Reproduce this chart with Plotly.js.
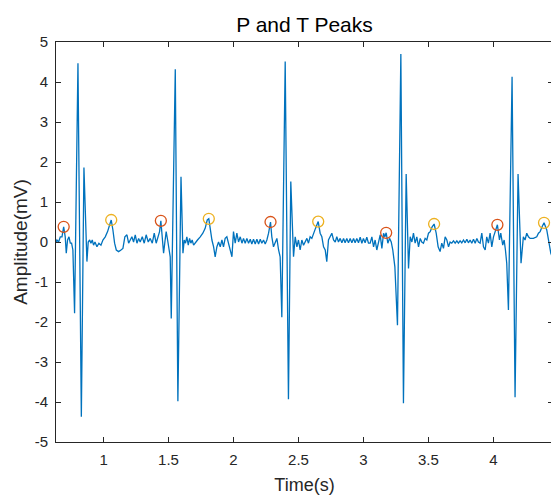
<!DOCTYPE html>
<html>
<head>
<meta charset="utf-8">
<script src="https://cdn.plot.ly/plotly-3.0.1.min.js"></script>
<style>
html,body{margin:0;padding:0;background:#fff;overflow:hidden;}
#chart{width:556px;height:495px;}
</style>
</head>
<body>
<div id="chart"></div>
<script>
// ECG signal (time in s, amplitude in mV)
var time = [
0.634,0.641,0.654,0.667,0.680,0.693,0.705,0.713,0.723,0.734,0.744,0.754,0.764,0.777,0.803,0.829,0.849,0.872,
0.882,0.893,0.903,0.913,0.923,0.934,0.949,0.964,0.980,0.995,1.013,1.031,1.046,1.059,1.072,1.085,1.098,1.116,
1.134,1.149,1.164,1.180,1.193,1.205,1.218,1.231,1.244,1.257,1.270,1.282,1.298,1.313,1.328,1.344,1.359,1.375,
1.390,1.405,1.421,1.431,1.441,1.452,1.462,1.472,1.482,1.493,1.503,1.513,1.521,1.552,1.572,1.596,1.611,1.621,
1.631,1.641,1.652,1.662,1.672,1.682,1.693,1.708,1.723,1.744,1.764,1.782,1.798,1.810,1.821,1.834,1.847,1.859,
1.872,1.885,1.898,1.911,1.923,1.936,1.949,1.962,1.975,1.988,2.000,2.013,2.026,2.039,2.052,2.065,2.077,2.090,
2.103,2.116,2.129,2.141,2.154,2.167,2.180,2.193,2.206,2.218,2.231,2.244,2.257,2.270,2.285,2.295,2.308,2.321,
2.334,2.347,2.359,2.372,2.398,2.423,2.441,2.462,2.475,2.488,2.500,2.513,2.526,2.539,2.552,2.565,2.577,2.590,
2.603,2.616,2.631,2.652,2.667,2.680,2.693,2.706,2.718,2.731,2.744,2.757,2.770,2.783,2.795,2.808,2.821,2.834,
2.847,2.859,2.872,2.885,2.898,2.911,2.924,2.936,2.949,2.962,2.975,2.988,3.000,3.013,3.026,3.039,3.052,3.065,
3.078,3.090,3.103,3.116,3.129,3.142,3.155,3.165,3.175,3.188,3.201,3.214,3.226,3.242,3.262,3.288,3.308,3.329,
3.347,3.360,3.373,3.385,3.398,3.411,3.424,3.437,3.449,3.462,3.475,3.488,3.501,3.514,3.529,3.544,3.560,3.575,
3.590,3.603,3.616,3.629,3.642,3.655,3.667,3.680,3.693,3.706,3.719,3.731,3.744,3.757,3.770,3.783,3.796,3.808,
3.821,3.834,3.847,3.860,3.873,3.885,3.898,3.911,3.924,3.937,3.949,3.962,3.975,3.988,4.001,4.014,4.031,4.047,
4.057,4.072,4.083,4.093,4.103,4.116,4.144,4.167,4.190,4.213,4.231,4.244,4.257,4.270,4.283,4.308,4.334,4.347,
4.360,4.375,4.390,4.411,4.426,4.442,4.462
];
var amplitude = [
0.00,0.05,0.00,0.13,0.13,0.38,0.13,-0.28,0.05,0.13,-0.03,-0.03,-0.20,-1.78,4.47,-4.37,1.86,-0.49,
0.00,0.05,-0.03,0.05,-0.08,0.00,-0.12,-0.03,-0.08,0.05,0.13,0.26,0.42,0.55,0.30,-0.03,-0.20,-0.24,
-0.20,-0.16,0.13,0.18,-0.03,0.05,0.13,0.00,0.18,-0.03,0.09,0.00,0.13,-0.03,0.18,0.00,0.09,-0.03,
0.22,-0.03,0.18,0.26,0.53,0.13,-0.28,0.00,0.26,0.05,-0.12,-0.37,-1.91,4.32,-3.98,1.63,-0.28,0.05,
-0.03,0.13,-0.08,0.09,-0.03,0.05,-0.08,0.00,0.05,0.13,0.22,0.34,0.55,0.58,0.30,0.05,-0.12,-0.37,
-0.12,0.00,-0.12,0.05,-0.12,0.09,0.13,-0.03,-0.20,-0.37,0.26,-0.03,0.22,0.00,0.13,-0.03,0.09,-0.03,
0.09,-0.03,0.07,-0.05,0.07,-0.05,0.07,-0.05,0.07,-0.03,0.05,-0.05,0.05,0.22,0.50,0.13,-0.12,-0.03,
0.09,-0.20,-0.37,-1.88,4.51,-3.93,1.51,-0.37,0.13,-0.12,0.05,-0.20,0.05,-0.08,0.00,0.09,-0.03,0.13,
0.09,0.22,0.34,0.51,0.22,0.13,-0.12,-0.20,-0.49,0.05,0.13,0.22,0.05,0.00,0.13,0.00,0.09,-0.02,
0.09,-0.02,0.09,-0.02,0.09,-0.02,0.09,-0.02,0.09,-0.02,0.12,-0.03,0.09,-0.02,0.12,-0.03,-0.03,0.13,
-0.12,0.05,-0.20,0.00,0.18,-0.16,0.22,0.13,0.23,-0.03,0.09,0.00,-0.20,-0.62,-2.08,4.70,-4.03,1.70,
-0.66,0.13,0.00,0.22,-0.03,0.13,-0.12,0.09,0.00,-0.03,0.09,0.05,0.22,0.26,0.38,0.45,0.22,-0.12,
-0.24,-0.03,-0.16,0.13,0.05,-0.12,0.00,-0.03,0.03,-0.03,0.03,-0.03,0.03,-0.02,0.05,-0.02,0.07,-0.02,
0.05,-0.03,0.07,-0.03,0.09,0.00,-0.03,0.22,-0.12,-0.20,0.13,-0.03,0.22,-0.12,0.13,0.26,0.43,0.05,
0.22,-0.08,0.05,-0.20,-0.53,-1.70,4.13,-3.88,1.70,-0.53,0.13,0.05,0.22,0.13,0.09,0.09,0.13,0.22,
0.26,0.38,0.48,0.30,-0.03,-0.28,-0.45
];
// P peaks
var pTime = [0.693,1.441,2.285,3.175,4.031];
var pAmp  = [0.38,0.53,0.50,0.23,0.43];
// T peaks
var tTime = [1.059,1.810,2.652,3.544,4.390];
var tAmp  = [0.55,0.58,0.51,0.45,0.48];
// ticks
var xTickVals = [1,1.5,2,2.5,3,3.5,4];
var xTickText = ["1","1.5","2","2.5","3","3.5","4"];
var yTickVals = [-5,-4,-3,-2,-1,0,1,2,3,4,5];
var yTickText = ["-5","-4","-3","-2","-1","0","1","2","3","4","5"];

var axisColor = '#262626';
var fontFam = 'Liberation Sans, Arial, Helvetica, sans-serif';

var traces = [
  {x: time, y: amplitude, type: 'scatter', mode: 'lines',
   line: {color: '#0072BD', width: 1.3}, name: 'ECG', hoverinfo: 'x+y'},
  {x: pTime, y: pAmp, type: 'scatter', mode: 'markers', name: 'P peaks',
   marker: {symbol: 'circle-open', size: 11, color: '#D95319', line: {width: 1.3, color: '#D95319'}}},
  {x: tTime, y: tAmp, type: 'scatter', mode: 'markers', name: 'T peaks',
   marker: {symbol: 'circle-open', size: 11, color: '#EDB120', line: {width: 1.3, color: '#EDB120'}}}
];

var layout = {
  width: 556, height: 495,
  margin: {l: 56, r: 3, t: 42, b: 53, pad: 0},
  paper_bgcolor: '#ffffff', plot_bgcolor: '#ffffff',
  showlegend: false,
  font: {family: fontFam, color: axisColor, size: 15},
  title: {text: 'P and T Peaks', font: {family: fontFam, size: 21, color: '#000000'},
          x: 0.5, xref: 'paper', xanchor: 'center', y: 1 - 25/495, yref: 'container', yanchor: 'middle'},
  xaxis: {
    range: [0.634, 4.459], tickmode: 'array', tickvals: xTickVals, ticktext: xTickText,
    ticks: 'inside', ticklen: 5, tickwidth: 1, tickcolor: axisColor,
    showline: true, linecolor: axisColor, linewidth: 1, mirror: 'ticks',
    showgrid: false, zeroline: false, ticklabelstandoff: 4,
    tickfont: {family: fontFam, size: 15, color: axisColor},
    title: {text: 'Time(s)', font: {family: fontFam, size: 18, color: axisColor}, standoff: 12}
  },
  yaxis: {
    range: [-5, 5], tickmode: 'array', tickvals: yTickVals, ticktext: yTickText,
    ticks: 'inside', ticklen: 5, tickwidth: 1, tickcolor: axisColor,
    showline: true, linecolor: axisColor, linewidth: 1, mirror: 'ticks',
    showgrid: false, zeroline: false, ticklabelstandoff: 4,
    tickfont: {family: fontFam, size: 15, color: axisColor},
    title: {text: 'Amplitude(mV)', font: {family: fontFam, size: 19, color: axisColor}, standoff: 2}
  }
};

Plotly.newPlot('chart', traces, layout, {staticPlot: true, displayModeBar: false});
</script>
</body>
</html>
